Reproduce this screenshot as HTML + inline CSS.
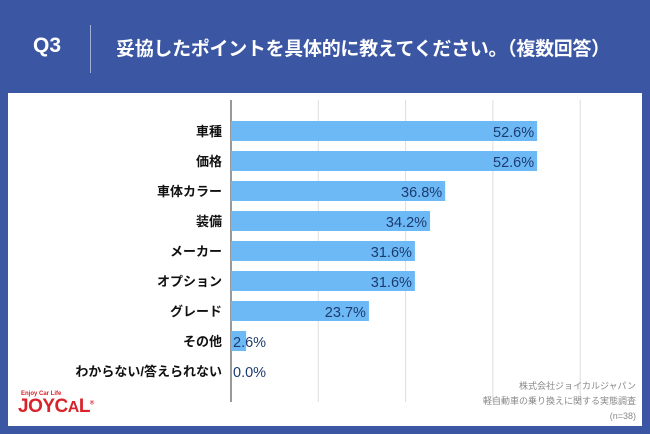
<!DOCTYPE html>
<html><head><meta charset="utf-8"><style>
body{margin:0;width:650px;height:434px;background:#3B56A3;font-family:"Liberation Sans","Noto Sans CJK JP",sans-serif;position:relative;overflow:hidden}
.t{position:absolute;color:#fff;font-weight:bold}
</style></head><body>
<div class="t" style="left:33px;top:34px;font-size:21px">Q3</div>
<div style="position:absolute;left:90px;top:25px;width:1px;height:48px;background:#9fb0d8"></div>
<div class="t" style="left:116px;top:34px;font-size:19px;letter-spacing:-0.3px">妥協したポイントを具体的に教えてください。（複数回答）</div>
<div style="position:absolute;left:8px;top:93px;width:634px;height:333px;background:#fff"></div>
<svg id="c" width="650" height="434" style="position:absolute;left:0;top:0"></svg>
<div style="position:absolute;left:18px;top:396px;color:#d8232a;font-weight:900;font-size:19px;letter-spacing:-0.5px">JOYC<span style="font-size:16px">A</span>L<sup style="font-size:6px">®</sup></div>
<div style="position:absolute;left:21px;top:391px;color:#d8232a;font-size:6px;font-weight:bold">Enjoy Car Life</div>
<div style="position:absolute;right:14px;top:379px;text-align:right;color:#888;font-size:9px;line-height:15px">株式会社ジョイカルジャパン<br>軽自動車の乗り換えに関する実態調査<br>(n=38)</div>
<script>
const categories=["車種","価格","車体カラー","装備","メーカー","オプション","グレード","その他","わからない/答えられない"];
const values=[52.6,52.6,36.8,34.2,31.6,31.6,23.7,2.6,0.0];
const ticks=[0,15,30,45,60];
const svg=document.getElementById('c');const NS="http://www.w3.org/2000/svg";
const x0=231,pxPer=5.82,y0=131,step=30,bh=20;
const X=v=>x0+v*pxPer, Y=i=>y0+i*step;
function mk(t,a){const e=document.createElementNS(NS,t);for(const k in a)e.setAttribute(k,a[k]);svg.appendChild(e);return e;}
ticks.forEach((t,i)=>{const l=mk('line',{x1:X(t),x2:X(t),y1:100,y2:402,stroke:i==0?'#333':'#ddd','stroke-width':1});

});
categories.forEach((c,i)=>{
const r=mk('rect',{x:X(0),y:Y(i)-bh/2,width:X(values[i])-X(0),height:bh,fill:'#6DB9F6'});


const lb=mk('text',{x:222,y:Y(i)+5,'text-anchor':'end','font-size':13,'font-weight':'bold',fill:'#111'});lb.textContent=c;


const big=values[i]>10;
const v=mk('text',{x:big?X(values[i])-3:X(0)+2,y:Y(i)+6,'text-anchor':big?'end':'start','font-size':14.5,fill:'#1d3b6e'});v.textContent=values[i].toFixed(1)+'%';


});
</script>
</body></html>
